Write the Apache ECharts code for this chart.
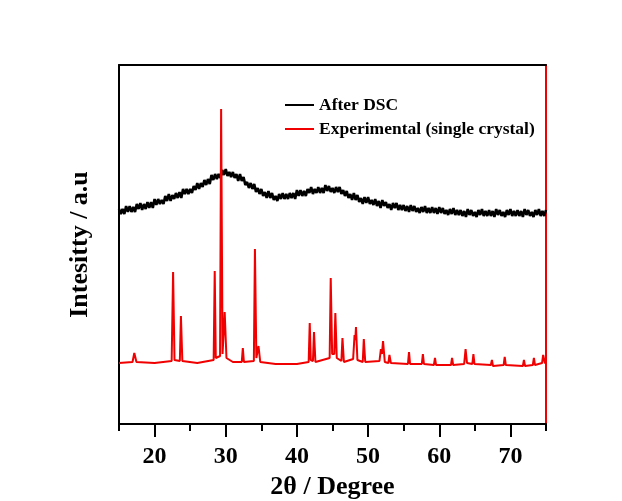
<!DOCTYPE html>
<html>
<head>
<meta charset="utf-8">
<script src="https://cdn.jsdelivr.net/npm/echarts@6/dist/echarts.min.js"></script>
<style>
html,body{margin:0;padding:0;background:#fff;}
#chart{width:622px;height:501px;}
</style>
</head>
<body>
<div id="chart"></div>
<script>
// DSC scan, sampled every 0.25 deg from 15 deg (noisy broad humps)
var dscStart = 15, dscStep = 0.25;
var dscIntensity = [
    215,210,215,210, 218,212,218,212, 217,212,220,215, 221,214,220,215,
    222,216,222,216, 225,219,225,220, 224,220,228,223, 230,223,229,225,
    231,226,232,226, 235,230,235,230, 235,231,238,234, 241,235,241,237,
    244,239,245,240, 249,244,250,245, 250,246,254,249, 255,248,252,247,
    252,246,250,243, 250,243,247,239, 242,236,241,235, 240,232,236,230,
    235,228,232,226, 233,226,231,224, 228,223,230,225, 231,225,230,225,
    231,226,231,225, 234,228,234,228, 233,228,235,231, 237,230,235,231,
    237,231,236,231, 239,233,238,232, 236,231,237,232, 237,230,234,228,
    233,226,230,224, 231,224,229,222, 226,220,227,221, 227,220,224,219,
    225,218,223,216, 224,218,222,216, 220,214,221,216, 221,214,219,214,
    219,213,218,212, 219,213,218,212, 216,211,217,212, 218,211,216,211,
    217,211,216,210, 217,211,216,210, 214,209,215,210, 216,209,214,209,
    214,208,213,207, 215,209,214,208, 212,207,214,209, 215,208,213,208,
    214,208,213,207, 215,209,214,208, 212,207,214,209, 215,208,213,208,
    214,208,213,207, 215,209,214,208, 212,207,214,209, 215,208,213,208,
    214];
// single crystal pattern: 2theta positions and heights
var xtalAngle = [15,16.9,17.15,17.45,20,22.4,22.6,22.8,23.55,23.7,23.9,26,28.3,28.45,28.6,29.2,29.35,29.55,29.85,30.1,
    31,32.25,32.4,32.55,33.95,34.1,34.3,34.6,34.85,37,40,41.65,41.8,41.95,42.25,42.4,42.6,44.6,44.75,44.95,
    45.25,45.4,45.6,46.25,46.4,46.6,47.9,48.1,48.2,48.3,48.5,49.25,49.4,49.6,51.6,51.8,51.95,52.1,52.35,52.85,
    53.0,53.2,55.6,55.75,55.9,57.55,57.7,57.85,59.25,59.4,59.55,61.65,61.8,61.95,63.5,63.7,63.9,64.65,64.8,64.95,
    67.25,67.4,67.55,69.05,69.2,69.35,71.75,71.9,72.05,73.15,73.3,73.45,74.45,74.6,74.85,75];
var xtalIntensity = [61,62,71,62,61,63,152,64,63,108,63,61,64,153,66,68,315,70,112,66,
    62,62,76,62,63,175,66,78,62,60,60,62,101,64,63,92,62,66,146,70,
    70,111,66,63,86,62,65,89,84,97,64,62,85,62,63,75,70,83,62,61,
    69,61,60,72,60,60,70,60,59,66,59,59,66,59,60,75,61,60,70,60,
    59,64,58,59,67,59,58,64,58,59,66,59,61,69,61,61];
var majorTicks = [20,30,40,50,60,70];
var minorTicks = [15,25,35,45,55,65,75];

var dscData = [], xtalData = [];
for(var i=0;i<dscIntensity.length;i++){
    dscData.push([dscStart + i*dscStep, dscIntensity[i]]);
}
for(var j=0;j<xtalAngle.length;j++){
    xtalData.push([xtalAngle[j], xtalIntensity[j]]);
}

var font = 'Liberation Serif';
var red = '#f00000';
var myChart = echarts.init(document.getElementById('chart'));
myChart.setOption({
    animation:false,
    backgroundColor:'#fff',
    grid:{left:119,right:76,top:65,bottom:77,containLabel:false,outerBoundsMode:'none'},
    legend:{
        orient:'vertical',left:280,top:91,
        icon:'rect',itemWidth:29,itemHeight:2,itemGap:6,
        textStyle:{fontFamily:font,fontWeight:'bold',fontSize:17.5,color:'#000'},
        data:['After DSC','Experimental (single crystal)']
    },
    xAxis:[{
        type:'value',min:15,max:75,position:'bottom',
        name:'2θ / Degree',nameLocation:'middle',nameGap:49,
        nameTextStyle:{fontFamily:font,fontWeight:'bold',fontSize:26,color:'#000'},
        axisLine:{lineStyle:{color:'#000',width:2}},
        axisTick:{customValues:majorTicks,length:13,lineStyle:{color:'#000',width:2}},
        axisLabel:{customValues:majorTicks,margin:21,fontFamily:font,fontWeight:'bold',fontSize:24,color:'#000'},
        splitLine:{show:false}
    },{
        type:'value',min:15,max:75,position:'bottom',
        axisLine:{show:false},
        axisTick:{customValues:minorTicks,length:7,lineStyle:{color:'#000',width:2}},
        axisLabel:{show:false},
        splitLine:{show:false}
    },{
        type:'value',min:15,max:75,position:'top',
        axisLine:{lineStyle:{color:'#000',width:2}},
        axisTick:{show:false},axisLabel:{show:false},splitLine:{show:false}
    }],
    yAxis:[{
        type:'value',min:0,max:359,position:'left',
        name:'Intesitty / a.u',nameLocation:'middle',nameGap:26,
        nameTextStyle:{fontFamily:font,fontWeight:'bold',fontSize:26,color:'#000'},
        axisLine:{show:true,lineStyle:{color:'#000',width:2}},
        axisTick:{show:false},axisLabel:{show:false},splitLine:{show:false}
    },{
        type:'value',min:0,max:359,position:'right',
        axisLine:{show:true,lineStyle:{color:red,width:2}},
        axisTick:{show:false},axisLabel:{show:false},splitLine:{show:false}
    }],
    series:[{
        name:'After DSC',type:'line',data:dscData,
        symbol:'none',color:'#000',
        lineStyle:{color:'#000',width:2.6}
    },{
        name:'Experimental (single crystal)',type:'line',data:xtalData,
        symbol:'none',color:red,
        lineStyle:{color:red,width:2}
    }]
});
</script>
</body>
</html>
